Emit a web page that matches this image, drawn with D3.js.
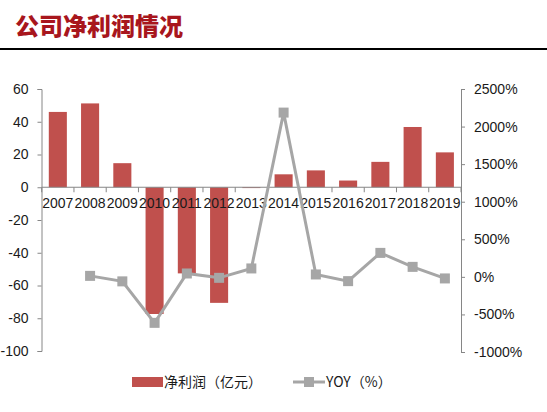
<!DOCTYPE html>
<html>
<head>
<meta charset="utf-8">
<script src="https://cdn.jsdelivr.net/npm/d3@7"></script>
<style>
  body { margin: 0; background: #fff; }
  svg { display: block; }
  .axis text { font-family: "Liberation Sans", Arial, sans-serif; font-size: 14px; fill: #1a1a1a; }
  .axis path, .axis line { stroke: #868686; }
</style>
</head>
<body>
<div id="chart"></div>
<script>
// chart data
const years = ["2007","2008","2009","2010","2011","2012","2013","2014","2015","2016","2017","2018","2019"];
const netProfit = [46, 51.2, 14.7, -77.4, -52.6, -70.6, -0.5, 7.9, 10.3, 4.1, 15.5, 36.8, 21.3];
const yoyYears = ["2008","2009","2010","2011","2012","2013","2014","2015","2016","2017","2018","2019"];
const yoy = [13, -60, -612, 45, -13, 112, 2186, 32, -57, 319, 133, -21];
const leftTicks = [60, 40, 20, 0, -20, -40, -60, -80, -100];
const rightTicks = [2500, 2000, 1500, 1000, 500, 0, -500, -1000];

const width = 547, height = 412;
const svg = d3.select("#chart").append("svg")
    .attr("width", width)
    .attr("height", height);

// title + rule
svg.append("text")
    .attr("x", 15)
    .attr("y", 35)
    .attr("fill", "#A8161D")
    .attr("style", "font-family:'Noto Sans CJK SC';font-weight:900;font-size:24px")
    .text("公司净利润情况");
svg.append("line")
    .attr("x1", 0).attr("x2", width)
    .attr("y1", 49).attr("y2", 49)
    .attr("stroke", "#000").attr("stroke-width", 2.2);

let x = d3.scaleBand().domain(years).range([41.7, 461]).paddingInner(0.44).paddingOuter(0.22);
let yL = d3.scaleLinear().domain([-100, 60]).range([351, 89]);
let yR = d3.scaleLinear().domain([-1000, 2500]).range([352, 89]);

// left axis (plain hyphen minus like the original)
svg.append("g")
    .attr("class", "axis")
    .attr("transform", "translate(41.5,0)")
    .call(d3.axisLeft(yL).tickValues(leftTicks).tickSize(4).tickPadding(9).tickFormat(d => String(d)));

// right axis
svg.append("g")
    .attr("class", "axis")
    .attr("transform", "translate(461,0)")
    .call(d3.axisRight(yR).tickValues(rightTicks).tickSize(4).tickPadding(9).tickFormat(d => d + "%"));

// bars
svg.selectAll(".bar")
    .data(years)
    .enter().append("rect")
    .attr("class", "bar")
    .attr("fill", "#C0504D")
    .attr("x", d => x(d))
    .attr("width", x.bandwidth())
    .attr("y", (d, i) => yL(Math.max(0, netProfit[i])))
    .attr("height", (d, i) => Math.abs(yL(netProfit[i]) - yL(0)));

// x axis at zero
let xAxis = svg.append("g").attr("class", "axis");
let gap = (x.step() - x.bandwidth()) / 2;
xAxis.append("line")
    .attr("x1", x.range()[0]).attr("x2", x.range()[1])
    .attr("y1", yL(0)).attr("y2", yL(0));
xAxis.selectAll(".tk")
    .data(years.concat(["end"]))
    .enter().append("line")
    .attr("class", "tk")
    .attr("x1", d => d == "end" ? x.range()[1] : x(d) - gap)
    .attr("x2", d => d == "end" ? x.range()[1] : x(d) - gap)
    .attr("y1", yL(0)).attr("y2", yL(0) + 5);

// YOY line
let line = d3.line()
    .x(d => x(d[0]) + x.bandwidth() / 2)
    .y(d => yR(d[1]));
let pts = yoyYears.map((d, i) => [d, yoy[i]]);
svg.append("path")
    .datum(pts)
    .attr("fill", "none")
    .attr("stroke", "#A6A6A6")
    .attr("stroke-width", 3)
    .attr("d", line);
svg.selectAll(".mk")
    .data(pts)
    .enter().append("rect")
    .attr("class", "mk")
    .attr("fill", "#A6A6A6")
    .attr("x", d => x(d[0]) + x.bandwidth() / 2 - 5)
    .attr("y", d => yR(d[1]) - 5)
    .attr("width", 10).attr("height", 10);

// category labels on top
xAxis.selectAll(".lbl")
    .data(years)
    .enter().append("text")
    .attr("class", "lbl")
    .attr("x", d => x(d) + x.bandwidth() / 2)
    .attr("y", yL(0) + 21)
    .attr("text-anchor", "middle")
    .text(d => d);

// legend
let lg = svg.append("g").attr("style", "font-family:'Noto Sans CJK SC';font-size:14px");
lg.append("rect").attr("x", 132).attr("y", 377).attr("width", 31).attr("height", 10).attr("fill", "#C0504D");
lg.append("text").attr("x", 164).attr("y", 387).attr("fill", "#1a1a1a").text("净利润（亿元）");
lg.append("line").attr("x1", 293).attr("x2", 325).attr("y1", 382).attr("y2", 382)
    .attr("stroke", "#A6A6A6").attr("stroke-width", 3);
lg.append("rect").attr("x", 304).attr("y", 377).attr("width", 10).attr("height", 10).attr("fill", "#A6A6A6");
lg.append("text").attr("x", 326).attr("y", 387).attr("fill", "#1a1a1a").text("YOY（%）");
</script>
</body>
</html>
